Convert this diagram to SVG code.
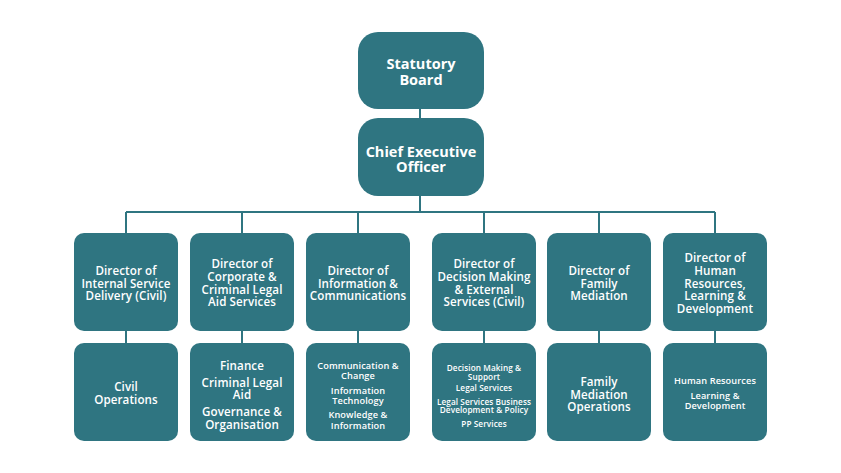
<svg xmlns="http://www.w3.org/2000/svg" width="841" height="473" viewBox="0 0 841 473">
<style>
.box{fill:#2f7581}
.ln{stroke:#2f7581;stroke-width:2;fill:none}
text{fill:#ffffff;font-family:"Open Sans","DejaVu Sans",sans-serif;font-weight:600;text-anchor:middle}
.t1{font-size:14.5px;font-weight:700}
.t2{font-size:11.6px;letter-spacing:0.1px}
.t3{font-size:9.2px;letter-spacing:0.1px}
.t4{font-size:8.2px;letter-spacing:0.1px}
</style>
<rect width="841" height="473" fill="#ffffff"/>
<g id="connectors">
<path class="ln" d="M420 109V118M420 196V212M126 212H715M126 212V233M242 212V233M358 212V233M484 212V233M599 212V233M715 212V233"/>
<path class="ln" d="M126 331V343M242 331V343M358 331V343M484 331V343M599 331V343M715 331V343"/>
</g>
<g id="statutory-board"><rect class="box" x="358" y="32" width="126" height="77" rx="20"/>
<text class="t1"><tspan x="421" y="69.3">Statutory</tspan><tspan x="421" y="85">Board</tspan></text></g>
<g id="ceo"><rect class="box" x="358" y="118" width="126" height="78" rx="20"/>
<text class="t1"><tspan x="421" y="156.7">Chief Executive</tspan><tspan x="421" y="171.7">Officer</tspan></text></g>

<g id="dir-isd"><rect class="box" x="74" y="233" width="104" height="98" rx="10"/>
<text class="t2"><tspan x="126" y="275">Director of</tspan><tspan x="126" y="287.7">Internal Service</tspan><tspan x="126" y="300.3">Delivery (Civil)</tspan></text></g>
<g id="dir-corp"><rect class="box" x="190" y="233" width="104" height="98" rx="10"/>
<text class="t2"><tspan x="242" y="268.3">Director of</tspan><tspan x="242" y="281.3">Corporate &amp;</tspan><tspan x="242" y="294">Criminal Legal</tspan><tspan x="242" y="306.3">Aid Services</tspan></text></g>
<g id="dir-info"><rect class="box" x="306" y="233" width="104" height="98" rx="10"/>
<text class="t2"><tspan x="358" y="275">Director of</tspan><tspan x="358" y="287.7">Information &amp;</tspan><tspan x="358" y="300.3">Communications</tspan></text></g>
<g id="dir-dm"><rect class="box" x="432" y="233" width="104" height="98" rx="10"/>
<text class="t2"><tspan x="484" y="268.3">Director of</tspan><tspan x="484" y="281.3">Decision Making</tspan><tspan x="484" y="294">&amp; External</tspan><tspan x="484" y="306.3">Services (Civil)</tspan></text></g>
<g id="dir-fm"><rect class="box" x="547" y="233" width="104" height="98" rx="10"/>
<text class="t2"><tspan x="599" y="275">Director of</tspan><tspan x="599" y="287.7">Family</tspan><tspan x="599" y="300.3">Mediation</tspan></text></g>
<g id="dir-hr"><rect class="box" x="663" y="233" width="104" height="98" rx="10"/>
<text class="t2"><tspan x="715" y="262.3">Director of</tspan><tspan x="715" y="275">Human</tspan><tspan x="715" y="287.7">Resources,</tspan><tspan x="715" y="300.3">Learning &amp;</tspan><tspan x="715" y="312.7">Development</tspan></text></g>

<g id="civil-ops"><rect class="box" x="74" y="343" width="104" height="98" rx="10"/>
<text class="t2"><tspan x="126" y="391.3">Civil</tspan><tspan x="126" y="404">Operations</tspan></text></g>
<g id="corp-units"><rect class="box" x="190" y="343" width="104" height="98" rx="10"/>
<text class="t2"><tspan x="242" y="370">Finance</tspan><tspan x="242" y="387">Criminal Legal</tspan><tspan x="242" y="399.3">Aid</tspan><tspan x="242" y="416">Governance &amp;</tspan><tspan x="242" y="428.7">Organisation</tspan></text></g>
<g id="info-units"><rect class="box" x="306" y="343" width="104" height="98" rx="10"/>
<text class="t3"><tspan x="358" y="368.5">Communication &amp;</tspan><tspan x="358" y="379">Change</tspan><tspan x="358" y="393.5">Information</tspan><tspan x="358" y="404">Technology</tspan><tspan x="358" y="418.2">Knowledge &amp;</tspan><tspan x="358" y="429">Information</tspan></text></g>
<g id="dm-units"><rect class="box" x="432" y="343" width="104" height="98" rx="10"/>
<text class="t4"><tspan x="484" y="370.7">Decision Making &amp;</tspan><tspan x="484" y="379.7">Support</tspan><tspan x="484" y="391.3">Legal Services</tspan><tspan x="484" y="404.7">Legal Services Business</tspan><tspan x="484" y="413.3">Development &amp; Policy</tspan><tspan x="484" y="427.3">PP Services</tspan></text></g>
<g id="fm-ops"><rect class="box" x="547" y="343" width="104" height="98" rx="10"/>
<text class="t2"><tspan x="599" y="386.3">Family</tspan><tspan x="599" y="398.7">Mediation</tspan><tspan x="599" y="411.3">Operations</tspan></text></g>
<g id="hr-units"><rect class="box" x="663" y="343" width="104" height="98" rx="10"/>
<text class="t3"><tspan x="715" y="384.3">Human Resources</tspan><tspan x="715" y="398.6">Learning &amp;</tspan><tspan x="715" y="409">Development</tspan></text></g>
</svg>
